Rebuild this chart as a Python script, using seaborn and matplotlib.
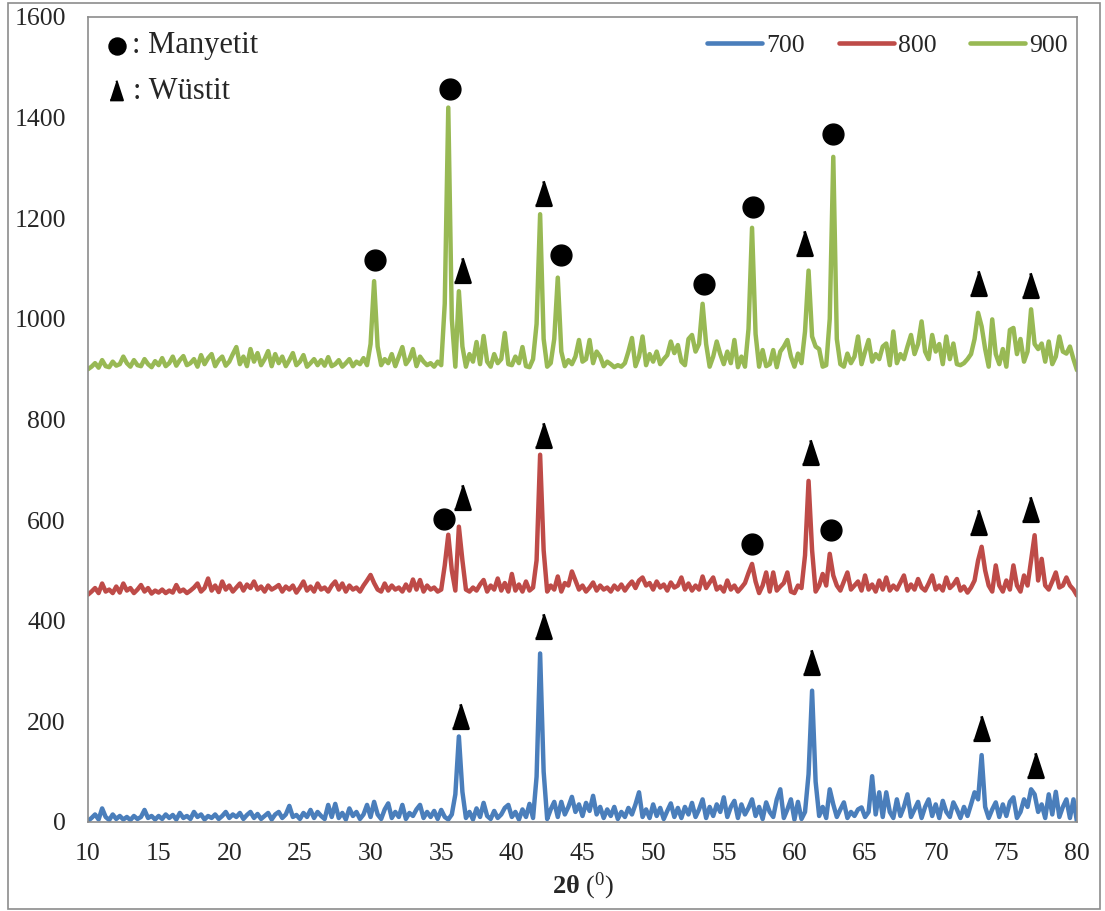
import numpy as np
import pandas as pd
import matplotlib
matplotlib.use("Agg")
import matplotlib.pyplot as plt
import seaborn as sns
from matplotlib.patches import Rectangle

# 2-theta scan, 0.25 degree step from 10 to 80
two_theta = np.linspace(10, 80, 281)

# intensities, one row = 5 degrees
s700 = [2, 8, 15, 5, 27, 10, 4, 15, 6, 12, 5, 10, 4, 12, 6, 10, 24, 8, 12, 5,
        12, 6, 15, 8, 14, 5, 18, 8, 12, 6, 20, 10, 15, 5, 12, 8, 15, 6, 12, 20,
        8, 15, 10, 18, 6, 14, 20, 8, 16, 6, 12, 18, 5, 15, 20, 8, 15, 32, 10, 14,
        6, 18, 10, 24, 8, 20, 12, 6, 34, 10, 36, 8, 18, 5, 27, 12, 20, 6, 15, 34,
        10, 40, 15, 6, 25, 37, 8, 20, 10, 34, 6, 18, 12, 25, 34, 8, 20, 10, 22, 6,
        24, 10, 5, 15, 55, 170, 60, 8, 20, 5, 27, 10, 38, 12, 6, 22, 8, 15, 28, 34,
        10, 20, 5, 25, 10, 36, 8, 90, 335, 100, 6, 25, 40, 10, 40, 15, 30, 50, 20, 35,
        12, 38, 22, 52, 15, 30, 8, 25, 12, 30, 6, 20, 10, 28, 15, 35, 59, 10, 25, 8,
        35, 12, 28, 6, 22, 37, 10, 28, 8, 30, 15, 38, 10, 25, 45, 8, 30, 12, 35, 20,
        49, 10, 30, 42, 8, 35, 15, 28, 45, 12, 30, 6, 39, 20, 10, 45, 65, 8, 25, 45,
        5, 40, 6, 20, 95, 261, 80, 12, 30, 8, 65, 35, 10, 25, 39, 8, 20, 12, 25, 29,
        10, 20, 91, 15, 59, 10, 59, 20, 8, 45, 12, 30, 55, 10, 25, 40, 8, 30, 45, 12,
        35, 8, 42, 20, 10, 39, 25, 8, 30, 12, 35, 59, 45, 133, 30, 8, 25, 39, 10, 35,
        12, 40, 49, 8, 20, 45, 30, 65, 55, 20, 35, 8, 55, 15, 60, 10, 30, 45, 8, 45,
        0]

s800 = [452, 458, 465, 455, 474, 458, 462, 455, 468, 456, 474, 460, 465, 455, 462, 471, 458, 465, 454, 460,
        456, 462, 455, 460, 456, 471, 458, 462, 455, 460, 466, 474, 458, 465, 484, 460, 470, 457, 478, 462,
        470, 458, 466, 474, 460, 472, 465, 478, 462, 468, 458, 470, 462, 466, 471, 458, 468, 462, 470, 456,
        466, 478, 460, 468, 458, 474, 462, 466, 458, 470, 478, 462, 474, 458, 470, 462, 466, 458, 470, 480,
        491, 475, 462, 458, 474, 460, 470, 462, 466, 458, 472, 460, 482, 462, 481, 458, 470, 462, 466, 458,
        462, 510, 571, 500, 460, 587, 520, 462, 458, 466, 460, 472, 481, 458, 470, 462, 484, 460, 475, 458,
        493, 460, 472, 458, 478, 460, 466, 520, 730, 540, 458, 470, 462, 488, 458, 475, 470, 498, 480, 462,
        470, 458, 466, 476, 460, 470, 462, 466, 458, 470, 462, 472, 460, 470, 478, 465, 480, 486, 470, 475,
        462, 478, 466, 472, 460, 476, 466, 470, 486, 462, 474, 460, 470, 462, 488, 465, 476, 486, 462, 468,
        458, 480, 462, 470, 458, 466, 475, 495, 513, 478, 455, 470, 496, 458, 496, 460, 468, 475, 496, 458,
        455, 470, 465, 530, 678, 540, 458, 470, 493, 470, 533, 490, 470, 460, 478, 496, 462, 470, 478, 460,
        490, 462, 472, 458, 480, 462, 486, 460, 470, 462, 476, 490, 460, 472, 462, 483, 466, 460, 474, 490,
        462, 470, 460, 486, 465, 472, 483, 460, 468, 456, 466, 480, 520, 547, 500, 470, 458, 510, 470, 458,
        480, 462, 510, 470, 458, 490, 470, 520, 570, 480, 523, 470, 462, 478, 496, 466, 470, 486, 470, 462,
        450]

s900 = [900, 905, 912, 903, 918, 906, 904, 915, 907, 910, 925, 912, 905, 918, 908, 906, 920, 910, 904, 916,
        908, 922, 906, 912, 925, 907, 918, 926, 908, 912, 920, 905, 928, 910, 922, 930, 906, 918, 925, 907,
        915, 930, 944, 910, 925, 906, 940, 915, 932, 908, 920, 936, 906, 930, 912, 925, 906, 918, 932, 908,
        915, 928, 905, 912, 920, 908, 918, 907, 924, 906, 910, 918, 905, 912, 920, 906, 915, 910, 922, 908,
        950, 1075, 945, 908, 920, 912, 930, 906, 925, 944, 910, 920, 940, 906, 925, 915, 908, 912, 905, 915,
        908, 1030, 1420, 1000, 905, 1055, 945, 905, 930, 915, 954, 910, 966, 915, 905, 930, 912, 920, 972, 910,
        908, 925, 912, 944, 906, 904, 920, 990, 1208, 960, 905, 912, 960, 1082, 935, 906, 918, 910, 925, 958,
        915, 920, 958, 912, 935, 925, 906, 915, 910, 904, 908, 905, 912, 935, 962, 906, 925, 965, 908, 930,
        915, 935, 910, 920, 928, 955, 932, 948, 915, 908, 960, 968, 935, 950, 1030, 950, 905, 925, 955, 930,
        910, 935, 912, 958, 904, 925, 905, 980, 1181, 970, 905, 938, 906, 910, 938, 904, 935, 945, 958, 925,
        905, 931, 912, 975, 1096, 965, 945, 940, 905, 908, 1000, 1322, 960, 910, 905, 931, 912, 925, 965, 910,
        935, 958, 915, 930, 920, 945, 951, 908, 975, 912, 930, 920, 945, 968, 930, 950, 995, 935, 920, 968,
        935, 950, 910, 965, 920, 951, 910, 908, 912, 920, 930, 960, 1012, 985, 940, 905, 999, 930, 910, 940,
        905, 978, 982, 930, 960, 915, 935, 1019, 950, 940, 951, 915, 955, 910, 925, 965, 935, 931, 945, 920,
        898]

series_labels = ["700", "800", "900"]
colors = {"700": "#4A7EBB", "800": "#BE4B48", "900": "#98B954"}

# phase markers above the peaks
mag_x = [30.3, 35.6, 43.5, 53.6, 57.1, 62.7, 35.2, 57.0, 62.6]
mag_y = [1117, 1457, 1127, 1070, 1223, 1368, 602, 553, 580]
wus_x = [36.5, 42.2, 60.7, 73.0, 76.7,
         36.5, 42.2, 61.1, 73.0, 76.7,
         36.3, 42.2, 61.2, 73.2, 77.0]
wus_y = [1097, 1250, 1151, 1072, 1068,
         646, 769, 736, 596, 622,
         211, 390, 318, 187, 113]

df = pd.DataFrame({
    "two_theta": np.concatenate([two_theta] * 3),
    "intensity": np.concatenate([s700, s800, s900]),
    "sample": np.repeat(series_labels, len(two_theta)),
})

sns.set_theme(style="white")
plt.rcParams["font.family"] = ["Liberation Serif", "DejaVu Serif"]
plt.rcParams["mathtext.fontset"] = "custom"
plt.rcParams["mathtext.rm"] = "Liberation Serif"
plt.rcParams["mathtext.bf"] = "Liberation Serif:bold"
plt.rcParams["mathtext.it"] = "Liberation Serif:italic"

fig = plt.figure(figsize=(11.05, 9.11), dpi=100)
ax = fig.add_axes([88 / 1105, 89 / 911, 989 / 1105, 805 / 911])

sns.lineplot(data=df, x="two_theta", y="intensity", hue="sample",
             palette=colors, linewidth=3.2, ax=ax, sort=False)

tri = [(-0.65, -1), (0.65, -1), (0, 1)]
ax.scatter(mag_x, mag_y, marker="o", s=225, color="black", zorder=5)
ax.scatter(wus_x, wus_y, marker=tri, s=310, color="black",
           edgecolor="black", linewidth=2, zorder=5)

# phase key, top left
ax.scatter([0.0293], [0.964], marker="o", s=150, color="black",
           transform=ax.transAxes, clip_on=False)
ax.text(0.0445, 0.964, ": Manyetit", transform=ax.transAxes,
        fontsize=22, va="center", ha="left")
ax.scatter([0.0283], [0.909], marker=tri, s=200, color="black",
           edgecolor="black", linewidth=1.5, transform=ax.transAxes, clip_on=False)
ax.text(0.0455, 0.907, ": Wüstit", transform=ax.transAxes,
        fontsize=22, va="center", ha="left")

ax.set_xlim(10, 80)
ax.set_ylim(0, 1600)
ax.set_xticks(range(10, 81, 5))
ax.set_yticks(range(0, 1601, 200))
ax.tick_params(axis="both", labelsize=18.5, length=0)
ax.tick_params(axis="x", pad=15)
ax.tick_params(axis="y", pad=16)
ax.set_xlabel(r"$\mathbf{2\theta}$ ($^{0}$)", fontsize=19, labelpad=4)
ax.set_ylabel("")

for sp in ax.spines.values():
    sp.set_color("#8C8C8C")
    sp.set_linewidth(1.2)

leg = ax.legend(loc="center right", bbox_to_anchor=(980 / 989, 0.964),
                ncol=3, frameon=False, fontsize=18.5,
                handlelength=2.14, handletextpad=0.16, columnspacing=1.32,
                borderaxespad=0, borderpad=0)
for line in leg.get_lines():
    line.set_linewidth(3.3)

fig.patches.append(Rectangle((8 / 1105, 2 / 911), 1092 / 1105, 906 / 911,
                             transform=fig.transFigure, fill=False,
                             edgecolor="#8C8C8C", linewidth=1.2))

fig.savefig("out.png", dpi=100)
